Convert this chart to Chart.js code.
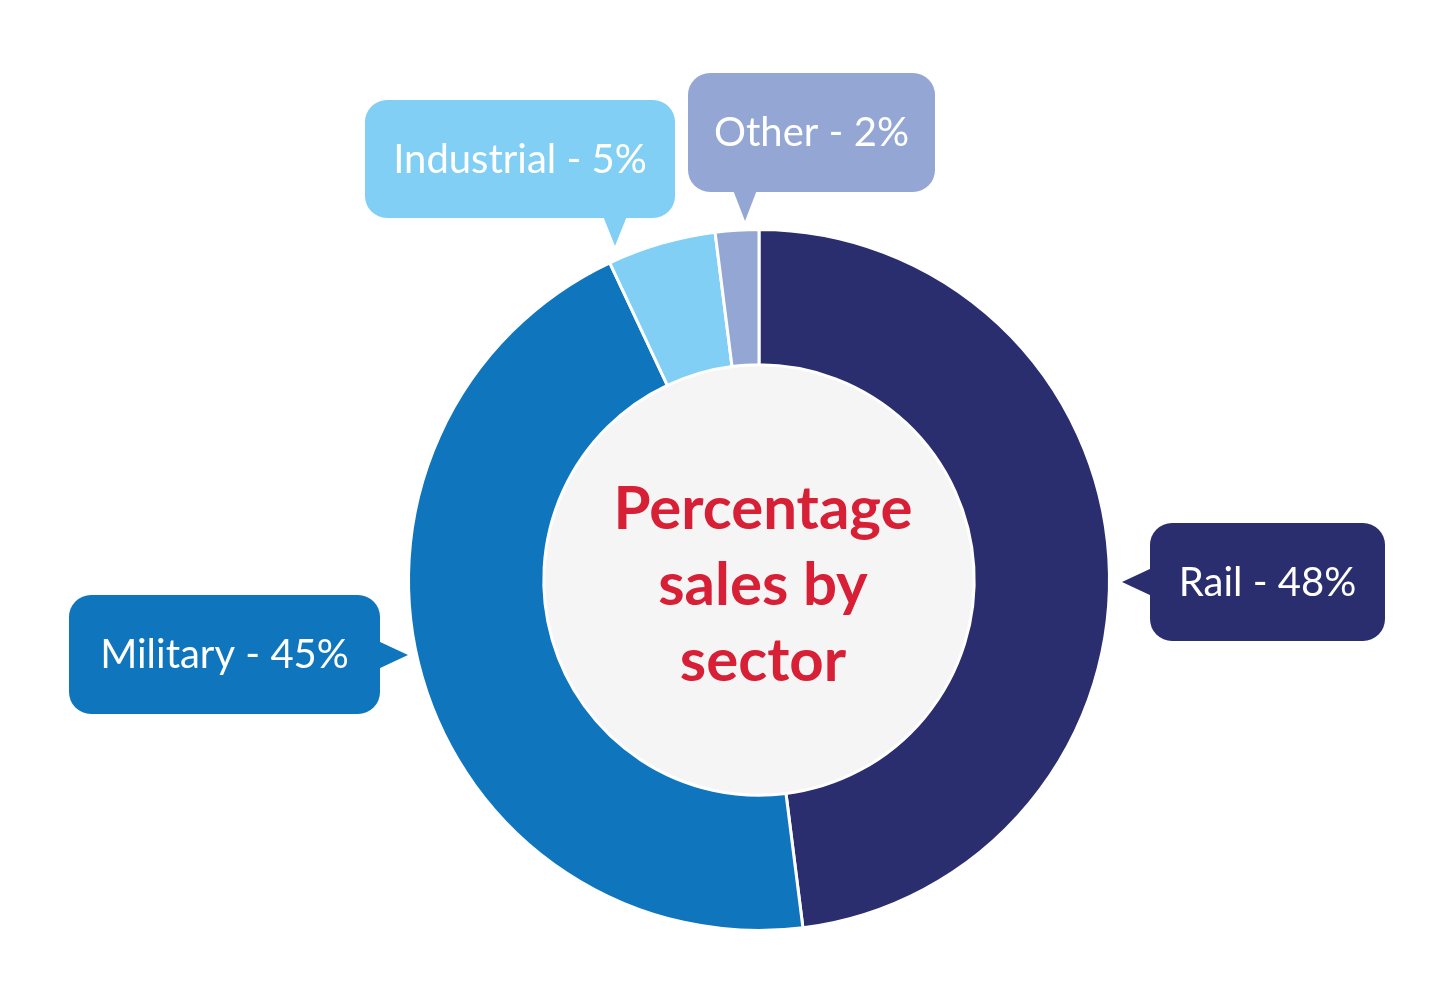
<!DOCTYPE html>
<html><head><meta charset="utf-8">
<script src="https://cdn.jsdelivr.net/npm/chart.js@4/dist/chart.umd.min.js"></script>
<style>html,body{margin:0;padding:0;background:#fff}#w{width:1449px;height:1004px}</style>
</head><body><div id="w"><canvas id="c"></canvas></div>
<script>
const categories = ["Rail", "Military", "Industrial", "Other"];
const values = [48, 45, 5, 2];
const colors = ["#2a2e6e", "#0f75bc", "#81cff4", "#94a6d4"];
const titleLines = ["Percentage", "sales by", "sector"];
// callout boxes: [x, y, w, h, pointer side, tip x, tip y]
const callouts = [
  [1150, 523, 235, 118, "left", 1122, 582],
  [69, 595, 311, 119, "right", 408, 655],
  [365, 100, 310, 118, "down", 615, 246],
  [688, 73, 247, 119, "down", 745, 221]
];
function rr(ctx,x,y,w,h,r){ctx.beginPath();ctx.moveTo(x+r,y);ctx.arcTo(x+w,y,x+w,y+h,r);ctx.arcTo(x+w,y+h,x,y+h,r);ctx.arcTo(x,y+h,x,y,r);ctx.arcTo(x,y,x+w,y,r);ctx.closePath();}
const deco = {
  id:'deco',
  beforeDatasetsDraw(chart){
    const a = chart.getDatasetMeta(0).data[0]; const ctx = chart.ctx;
    ctx.save();ctx.fillStyle='#f5f5f5';ctx.beginPath();ctx.arc(a.x,a.y,a.innerRadius,0,Math.PI*2);ctx.fill();ctx.restore();
  },
  afterDatasetsDraw(chart){
    const a = chart.getDatasetMeta(0).data[0]; const ctx = chart.ctx;
    ctx.save();
    ctx.fillStyle='#d71f36';ctx.font='bold 60px Lato';ctx.textAlign='center';ctx.textBaseline='middle';
    titleLines.forEach((t,i)=>ctx.fillText(t,a.x+4,a.y-70+i*76));
    callouts.forEach((c,i)=>{
      const [x,y,w,h,side,tx,ty]=c;
      ctx.fillStyle=colors[i];
      rr(ctx,x,y,w,h,22);ctx.fill();
      ctx.beginPath();
      if(side==='left'){ctx.moveTo(x+2,ty-14);ctx.lineTo(tx,ty);ctx.lineTo(x+2,ty+14);}
      else if(side==='right'){ctx.moveTo(x+w-2,ty-14);ctx.lineTo(tx,ty);ctx.lineTo(x+w-2,ty+14);}
      else {ctx.moveTo(tx-12,y+h-2);ctx.lineTo(tx,ty);ctx.lineTo(tx+12,y+h-2);}
      ctx.fill();
      ctx.fillStyle='#fff';ctx.font='40px Lato';ctx.textAlign='center';
      ctx.fillText(categories[i]+' - '+values[i]+'%',x+w/2,y+h/2+1);
    });
    ctx.restore();
  }
};
new Chart(document.getElementById('c'),{
  type:'doughnut',
  data:{labels:categories,datasets:[{data:values,backgroundColor:colors,borderColor:'#fff',borderWidth:3}]},
  options:{responsive:true,maintainAspectRatio:false,animation:false,cutout:'61.4%',
    layout:{padding:{top:228,bottom:72,left:407,right:338}},
    plugins:{legend:{display:false},tooltip:{enabled:false}}},
  plugins:[deco]
});
</script></body></html>
